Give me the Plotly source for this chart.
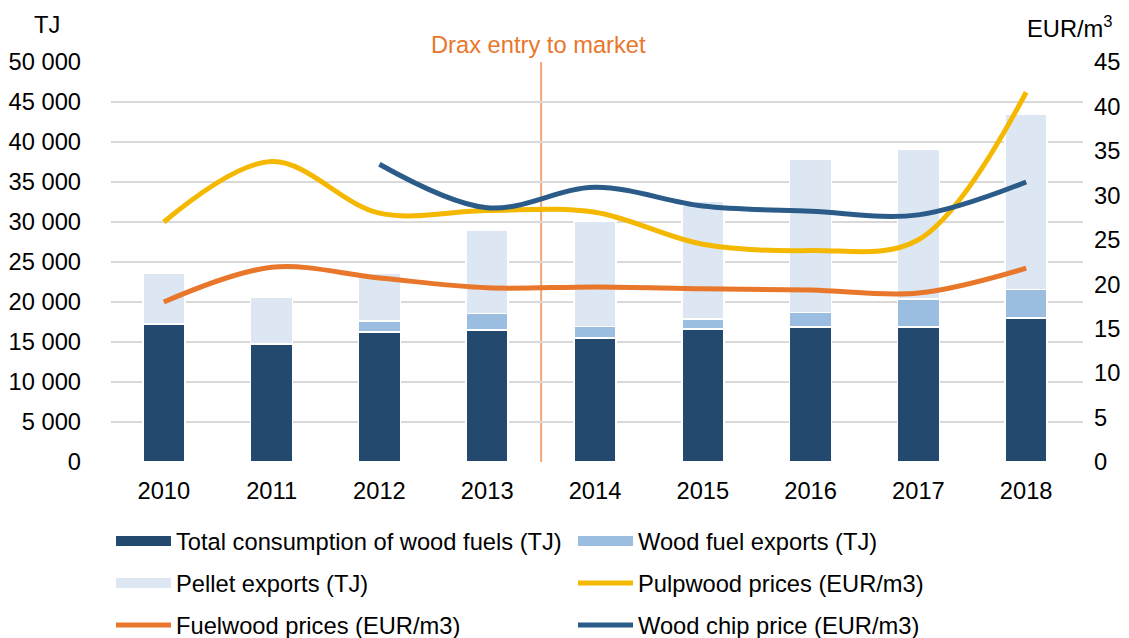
import plotly.graph_objects as go

years = ["2010", "2011", "2012", "2013", "2014", "2015", "2016", "2017", "2018"]
consumption = [17250, 14750, 16250, 16500, 15500, 16600, 16900, 16900, 18000]
wood_exports = [0, 0, 1400, 2050, 1450, 1250, 1800, 3500, 3550]
pellet_exports = [6400, 5800, 5950, 10400, 13200, 14800, 19150, 18750, 21900]
pulpwood = [27.0, 33.8, 28.0, 28.3, 28.1, 24.5, 23.8, 25.0, 41.6]
fuelwood = [18.0, 21.9, 20.7, 19.6, 19.7, 19.5, 19.35, 19.0, 21.8]
woodchip = [None, None, 33.5, 28.6, 30.9, 28.8, 28.2, 27.8, 31.5]
drax_pos = 3.5

C_CONS = "#234A6E"
C_EXP = "#9BBEE0"
C_PEL = "#DCE7F3"
C_PULP = "#F5B800"
C_FUEL = "#E8772B"
C_CHIP = "#2B5B88"

FONT = "Liberation Sans, Arial, sans-serif"
FS = 23.7

fig = go.Figure()
xi = list(range(len(years)))
for name, vals, col in [("Total consumption of wood fuels (TJ)", consumption, C_CONS),
                        ("Wood fuel exports (TJ)", wood_exports, C_EXP),
                        ("Pellet exports (TJ)", pellet_exports, C_PEL)]:
    fig.add_trace(go.Bar(x=xi, y=vals, name=name, marker=dict(color=col, line=dict(color="white", width=1.5)),
                         width=0.39, showlegend=False, yaxis="y"))

def legline(name, col, w, leg):
    fig.add_trace(go.Scatter(x=[None], y=[None], mode="lines", name=name,
                             line=dict(color=col, width=w), legend=leg, yaxis="y"))

legline("Total consumption of wood fuels (TJ)", C_CONS, 10, "legend")
legline("Wood fuel exports (TJ)", C_EXP, 10, "legend")
legline("Pellet exports (TJ)", C_PEL, 10, "legend2")

fig.add_trace(go.Scatter(x=xi, y=pulpwood, name="Pulpwood prices (EUR/m3)", mode="lines",
                         line=dict(color=C_PULP, width=5, shape="spline", smoothing=1.0),
                         yaxis="y2", legend="legend2"))
fig.add_trace(go.Scatter(x=xi, y=fuelwood, name="Fuelwood prices (EUR/m3)", mode="lines",
                         line=dict(color=C_FUEL, width=5, shape="spline", smoothing=1.0),
                         yaxis="y2", legend="legend3"))
fig.add_trace(go.Scatter(x=xi, y=woodchip, name="Wood chip price (EUR/m3)", mode="lines",
                         line=dict(color=C_CHIP, width=5, shape="spline", smoothing=1.0),
                         yaxis="y2", legend="legend3"))

fig.add_shape(type="line", xref="x", yref="paper", x0=drax_pos, x1=drax_pos, y0=0, y1=1,
              line=dict(color="#F0A878", width=2), layer="below")

legcommon = dict(orientation="h", xanchor="left", x=0.0, yanchor="middle", entrywidth=392,
                 entrywidthmode="pixels", itemwidth=55, font=dict(family=FONT, size=FS, color="#000"),
                 bgcolor="rgba(0,0,0,0)", traceorder="normal")

txtfont = dict(family=FONT, size=FS, color="#000")

fig.update_layout(
    width=1121, height=630,
    margin=dict(l=103, r=46, t=54, b=176, autoexpand=False),
    plot_bgcolor="white", paper_bgcolor="white",
    separators=". ",
    barmode="stack", bargap=0.6,
    font=txtfont,
    xaxis=dict(tickvals=xi, ticktext=years, range=[-0.49, 8.527], showgrid=False, zeroline=False,
               showline=False, ticks="", ticklabelstandoff=12),
    yaxis=dict(range=[0, 50000], dtick=5000, tickformat=",d", showgrid=True, gridcolor="#D9D9D9",
               gridwidth=2, zeroline=False, showline=False, ticks="", ticklabelstandoff=29),
    yaxis2=dict(range=[0, 45], dtick=5, overlaying="y", side="right", showgrid=False, zeroline=False,
                showline=False, ticks="", ticklabelstandoff=10),
    legend=dict(**legcommon, y=-0.1975),
    legend2=dict(**legcommon, y=-0.3025),
    legend3=dict(**legcommon, y=-0.4075),
    annotations=[
        dict(text="TJ", xref="paper", yref="paper", x=-0.0658, y=1.0925, xanchor="center",
             yanchor="middle", showarrow=False, font=txtfont),
        dict(text="EUR/m<sup>3</sup>", xref="paper", yref="paper", x=0.9866, y=1.087, xanchor="center",
             yanchor="middle", showarrow=False, font=txtfont),
        dict(text="Drax entry to market", xref="x", yref="paper", x=drax_pos, xshift=-3, y=1.0425,
             xanchor="center", yanchor="middle", showarrow=False,
             font=dict(family=FONT, size=FS, color="#E8772E")),
    ],
)

fig.write_html("out.html")
